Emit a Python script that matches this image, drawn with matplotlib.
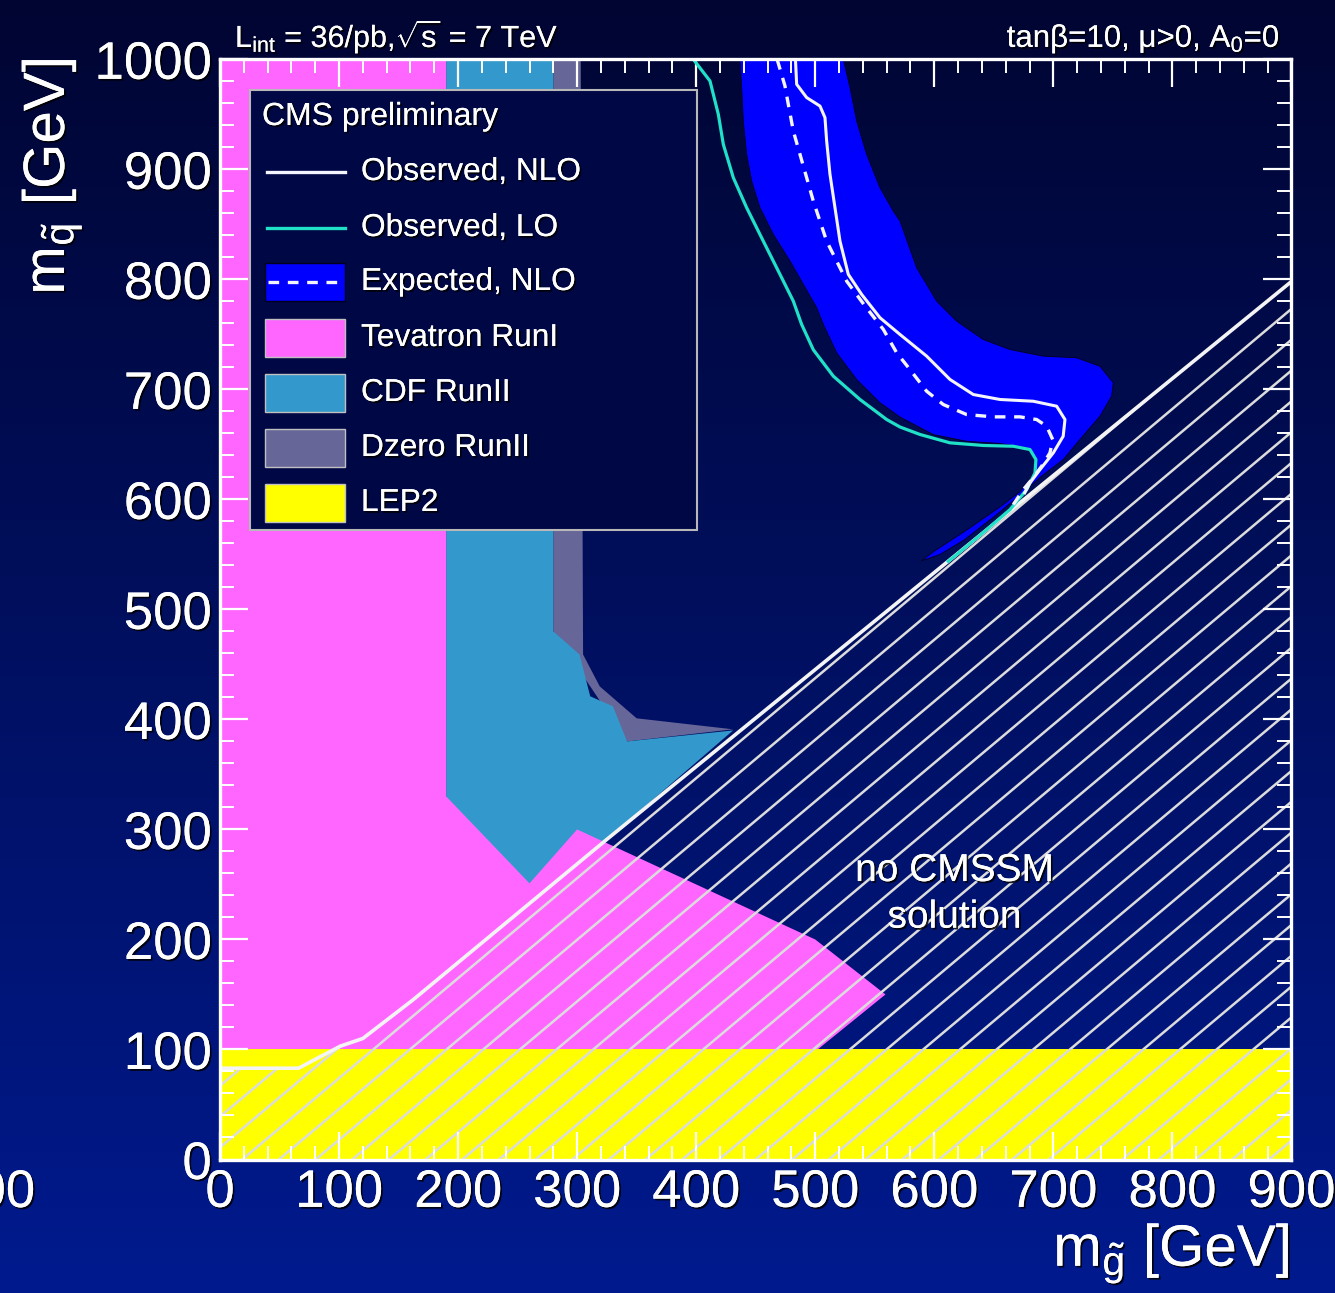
import numpy as np
import matplotlib
matplotlib.use("Agg")
import matplotlib.pyplot as plt
from matplotlib.patches import Polygon, Rectangle
from matplotlib.lines import Line2D
from matplotlib.collections import LineCollection
import matplotlib.patheffects as pe
from matplotlib.ticker import MultipleLocator

plt.rcParams['font.family'] = ['Liberation Sans', 'DejaVu Sans']
plt.rcParams['mathtext.fontset'] = 'custom'
plt.rcParams['mathtext.rm'] = 'Liberation Sans'
plt.rcParams['mathtext.it'] = 'Liberation Sans:italic'
plt.rcParams['mathtext.bf'] = 'Liberation Sans:bold'

W, H, DPI = 1335, 1293, 100

# ---------------- exclusion regions (m_gluino, m_squark) in GeV ----------------
tevatron_x = [0, 0, 190, 190, 260, 300, 500, 559, 502, 502]
tevatron_y = [0, 1000, 1000, 330, 251, 300, 200, 150, 100, 0]

cdf_x = [190, 280, 280, 302, 311, 330, 342, 431, 325, 300, 260, 190]
cdf_y = [1000, 1000, 480, 459, 421, 412, 380, 390, 291, 268, 240, 300]

dzero_x = [280, 303, 305, 319, 350, 431, 342, 280]
dzero_y = [1000, 1000, 459, 430, 401, 391, 380, 480]

lep_x = [0, 900]
lep_y = 100

# boundary of the region without CMSSM solution
nosol_x = [0, 66, 101, 120, 162, 325, 900]
nosol_y = [83, 83, 103, 110, 145, 291, 798]

# ---------------- CMS limits ----------------
obs_lo_x = [397.6, 411.6, 418.6, 422.8, 431.2, 442.4, 456.4, 470.4, 481.6, 488.6,
            498.4, 515.2, 537.6, 560, 571.2, 588, 613.2, 641.2, 666.4, 680.4,
            685.4, 684.6, 677.6, 663.6, 644, 627.2, 611.8]
obs_lo_y = [1000, 980.3, 950, 922.7, 892.4, 865.1, 834.7, 804.5, 780.2, 759,
            736, 712, 690.8, 672.6, 665.8, 659, 651.4, 649, 648.3, 645.3,
            636.2, 624.1, 608.9, 590.7, 572.5, 557.3, 543.7]

obs_nlo_x = [483.4, 484.4, 492.8, 504, 508.2, 509.6, 512.4, 516.6, 520.8, 527.8,
             539, 554.4, 571.2, 593.6, 613.2, 632.8, 655.2, 683.2, 702.8, 709.8,
             708.3, 700, 688.8, 680.4, 676]
obs_nlo_y = [1000, 977.3, 965.2, 957.5, 947, 925.7, 895.4, 865.1, 834.7, 804.5,
             786.3, 765.1, 749.9, 730.2, 709, 695.3, 690.8, 689.2, 684.7, 672.6,
             657.4, 642.3, 627.1, 615, 606]

exp_nlo_x = [468, 474.6, 477.4, 481.6, 487.2, 492.8, 498.4, 504, 509.6, 518,
             526.4, 541, 557.2, 568.4, 579.6, 593.6, 607.6, 627.2, 649.6, 672,
             686, 694.4, 699.5, 697.2, 690.2, 681.8, 674.8, 666.4]
exp_nlo_y = [1000, 975.7, 959, 934.8, 913.6, 892.4, 871.1, 852.9, 834.7, 816.6,
             798.4, 777, 754.5, 733.3, 718, 698.3, 686.2, 677.1, 675, 675,
             672.6, 666.5, 654.4, 642.3, 630.1, 618, 608.9, 595.3]

# expected +-1 sigma band: outer edge, lower edge with thin tail, inner edge
band_outer_x = [523.6, 529.2, 534.8, 543.2, 554.4, 565.6, 571.2, 585.2, 602, 618.8,
                641.2, 663.6, 691.5, 719.6, 739.2, 750.4, 749, 739.2, 722.4, 708.4]
band_outer_y = [1000, 974.3, 943.9, 913.6, 883.3, 862, 853, 810.6, 780.2, 762,
                745.3, 736.2, 730.2, 728.7, 721, 706, 693.8, 675.6, 654.4, 636.2]
band_tail_x = [690, 670, 650, 625, 605, 589, 600, 627, 655, 672, 680, 686]
band_tail_y = [621, 602, 584, 563, 550, 544, 553, 572, 593, 607, 618, 630]
band_inner_x = [436.8, 438.2, 439.6, 442.4, 446.6, 453.6, 464.8, 478.8, 490, 501.2,
                506.8, 518, 534.8, 554.4, 571.2, 599.2, 627.2, 655.2, 677.6, 686]
band_inner_y = [1000, 974.3, 944, 913.6, 889.3, 865.1, 840.8, 816.6, 795.4, 774.2,
                759, 733.2, 708.9, 687.8, 674.8, 658.9, 652.8, 650.8, 646.8, 636.2]

x_ticks = list(range(0, 901, 100))
y_ticks = list(range(0, 1001, 100))

# ---------------- colours ----------------
C_TEV = '#ff66ff'
C_CDF = '#3399cc'
C_D0 = '#666699'
C_LEP = '#ffff00'
C_BAND = '#0000ff'
C_CYAN = '#20e0c8'
C_WHITE = '#f4f4ff'

shadow = [pe.withSimplePatchShadow(offset=(1.3, -1.3), shadow_rgbFace='black', alpha=0.85),
          pe.Normal()]


def fx(px):
    return px / W


def fy(py):
    return 1 - py / H


fig = plt.figure(figsize=(W / DPI, H / DPI), dpi=DPI)

# vertical background gradient
bg = fig.add_axes([0, 0, 1, 1], zorder=-10)
t = np.linspace(0, 1, 256)[:, None]
top = np.array([0, 5, 50]) / 255
bot = np.array([0, 26, 142]) / 255
grad = top[None, None, :] * (1 - t[..., None]) + bot[None, None, :] * t[..., None]
grad = np.repeat(grad, 2, axis=1)
bg.imshow(grad, aspect='auto', extent=[0, 1, 0, 1])
bg.set_axis_off()

ax = fig.add_axes([fx(220), fy(1159.5), fx(1291.4) - fx(220), fy(59.3) - fy(1159.5)])
ax.set_facecolor('none')
ax.set_xlim(0, 900)
ax.set_ylim(0, 1000)

ax.add_patch(Polygon(np.column_stack([dzero_x, dzero_y]), closed=True,
                     facecolor=C_D0, edgecolor='none', zorder=1.0))
ax.add_patch(Polygon(np.column_stack([cdf_x, cdf_y]), closed=True,
                     facecolor=C_CDF, edgecolor='none', zorder=1.1))
ax.add_patch(Polygon(np.column_stack([tevatron_x, tevatron_y]), closed=True,
                     facecolor=C_TEV, edgecolor='none', zorder=1.2))
ax.fill_between(lep_x, 0, lep_y, facecolor=C_LEP, edgecolor='none', zorder=1.3)

band_x = band_outer_x + band_tail_x + band_inner_x[::-1]
band_y = band_outer_y + band_tail_y + band_inner_y[::-1]
ax.add_patch(Polygon(np.column_stack([band_x, band_y]), closed=True,
                     facecolor=C_BAND, edgecolor='#000020', lw=0.6, zorder=1.4))

# hatched "no CMSSM solution" region
hatch_poly = Polygon(np.column_stack([nosol_x + [900, 0], nosol_y + [0, 0]]), closed=True,
                     facecolor='none', edgecolor='none', zorder=1.5)
ax.add_patch(hatch_poly)
slope = 0.909
offsets = 419.1 + 30.8 * np.arange(-45, 18)
segs = [[(x0, 0), (x0 + 1000 / slope, 1000)] for x0 in offsets]
hatch = LineCollection(segs, colors='#dcdcdc', linewidths=1.8, zorder=1.5)
ax.add_collection(hatch)
hatch.set_clip_path(hatch_poly)
ax.plot(nosol_x, nosol_y, color='#f4f4f4', lw=2.6, zorder=1.6, solid_capstyle='butt')

ax.plot(obs_lo_x, obs_lo_y, color=C_CYAN, lw=2.3, zorder=1.7)
ax.plot(exp_nlo_x, exp_nlo_y, color=C_WHITE, lw=2.4, ls=(0, (3.2, 2.6)), zorder=1.8)
ax.plot(obs_nlo_x, obs_nlo_y, color=C_WHITE, lw=2.2, zorder=1.9)

ax.text(617, 241, 'no CMSSM\nsolution', color='white', fontsize=28, ha='center',
        va='center', multialignment='center', linespacing=1.38, zorder=2.0,
        path_effects=shadow)

# axes styling
for s in ax.spines.values():
    s.set_color('white')
    s.set_linewidth(2.4)
ax.set_xticks(x_ticks)
ax.set_yticks(y_ticks)
ax.xaxis.set_minor_locator(MultipleLocator(20))
ax.yaxis.set_minor_locator(MultipleLocator(20))
ax.tick_params(which='both', direction='in', top=True, right=True, colors='white')
ax.tick_params(which='major', length=20, width=1.6, labelsize=38, pad=6)
ax.tick_params(which='minor', length=10, width=1.4)
for lab in ax.get_xticklabels() + ax.get_yticklabels():
    lab.set_path_effects(shadow)

# axis titles and header texts
fig.text(fx(52), fy(58), r'm$_{\tilde{\mathrm{q}}}$ [GeV]', rotation=90, color='white',
         fontsize=42, ha='center', va='top', path_effects=shadow)
fig.text(fx(1290), fy(1266), r'm$_{\tilde{\mathrm{g}}}$ [GeV]', color='white',
         fontsize=42, ha='right', va='baseline', path_effects=shadow)
fig.text(fx(235), fy(47), r'L$_{\mathrm{int}}$ = 36/pb,$\sqrt{\mathrm{s}}$ = 7 TeV',
         color='white', fontsize=22, ha='left', va='baseline', path_effects=shadow)
fig.text(fx(1280), fy(47), r'tanβ=10, μ>0, A$_{0}$=0', color='white', fontsize=22.5,
         ha='right', va='baseline', path_effects=shadow)
fig.text(fx(35), fy(1193), '900', color='white', fontsize=38, ha='right', va='center',
         path_effects=shadow)

# legend box
leg_z = 5
fig.add_artist(Rectangle((fx(250), fy(530)), fx(697) - fx(250), fy(90) - fy(530),
                         transform=fig.transFigure, facecolor='#000745',
                         edgecolor='#b8b8b8', lw=1.5, zorder=leg_z))
fig.text(fx(262), fy(117), 'CMS preliminary', color='white', fontsize=23,
         ha='left', va='center', zorder=leg_z + 1, path_effects=shadow)

rows = [172, 228, 282, 338, 393, 448, 503]
labels = ['Observed, NLO', 'Observed, LO', 'Expected, NLO', 'Tevatron RunI',
          'CDF RunII', 'Dzero RunII', 'LEP2']
for yy, lab in zip(rows, labels):
    fig.text(fx(361), fy(yy), lab, color='white', fontsize=22.8, ha='left',
             va='center', zorder=leg_z + 1, path_effects=shadow)

fig.add_artist(Line2D([fx(267), fx(345)], [fy(172), fy(172)], transform=fig.transFigure,
                      color=C_WHITE, lw=2.4, zorder=leg_z + 1))
fig.add_artist(Line2D([fx(267), fx(345)], [fy(228), fy(228)], transform=fig.transFigure,
                      color=C_CYAN, lw=2.4, zorder=leg_z + 1))
for yy, col in zip(rows[2:], [C_BAND, C_TEV, C_CDF, C_D0, C_LEP]):
    fig.add_artist(Rectangle((fx(265), fy(yy + 19)), fx(345) - fx(265), fy(yy - 19) - fy(yy + 19),
                             transform=fig.transFigure, facecolor=col,
                             edgecolor='#000020' if col == C_BAND else '#c0c0c0',
                             lw=1.0, zorder=leg_z + 1))
fig.add_artist(Line2D([fx(268), fx(343)], [fy(282), fy(282)], transform=fig.transFigure,
                      color=C_WHITE, lw=2.4, ls=(0, (3.2, 2.6)), zorder=leg_z + 2))

fig.savefig('out.png', dpi=DPI)
